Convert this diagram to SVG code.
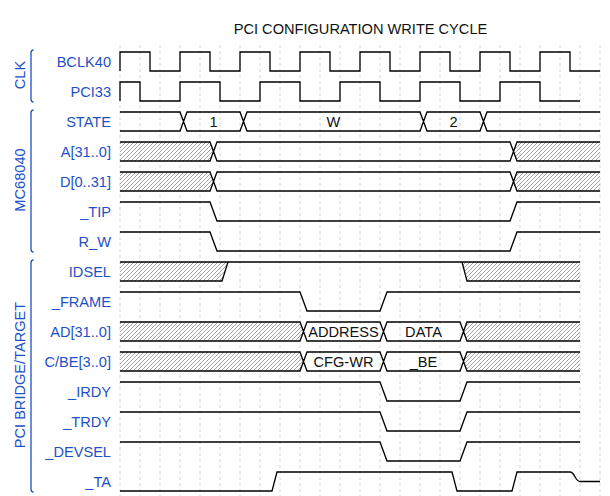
<svg xmlns="http://www.w3.org/2000/svg" width="610" height="496" viewBox="0 0 610 496">
<defs>
<pattern id="hatch" patternUnits="userSpaceOnUse" width="4" height="4">
<path d="M-1,1 L1,-1 M0,4 L4,0 M3,5 L5,3" stroke="#8a8a8a" stroke-width="0.8"/>
</pattern>
<style>
.grid{stroke:#d4d4d4;stroke-width:1;stroke-dasharray:3,3}
.w{fill:none;stroke:#000;stroke-width:1.3;stroke-linejoin:miter}
.h{fill:url(#hatch);stroke:none}
.lbl{font-family:"Liberation Sans",Arial,sans-serif;font-size:14.6px;fill:#1e50c8;text-anchor:end}
.grp{font-family:"Liberation Sans",Arial,sans-serif;font-size:14.6px;fill:#1e50c8;text-anchor:middle}
.br{fill:none;stroke:#1e50c8;stroke-width:1.3}
.bt{font-family:"Liberation Sans",Arial,sans-serif;font-size:14.6px;fill:#111;text-anchor:middle}
.title{font-family:"Liberation Sans",Arial,sans-serif;font-size:14.6px;fill:#111;text-anchor:middle}
</style>
</defs>
<rect width="610" height="496" fill="#fff"/>
<g id="grid">
<path class="grid" d="M120,45V496M140,45V496M160,45V496M180,45V496M200,45V496M220,45V496M240,45V496M260,45V496M280,45V496M300,45V496M320,45V496M340,45V496M360,45V496M380,45V496M400,45V496M420,45V496M440,45V496M460,45V496M480,45V496M500,45V496M520,45V496M540,45V496M560,45V496M580,45V496M600,45V496"/>
</g>
<text id="title" class="title" x="360.5" y="33.5">PCI CONFIGURATION WRITE CYCLE</text>
<g id="group-clk">
<path class="br" d="M33.5,50 Q31,50 31,53 V99 Q31,102 33.5,102"/>
<text class="grp" transform="translate(25,75) rotate(-90)">CLK</text>
</g>
<g id="group-mc68040">
<path class="br" d="M33.5,110 Q31,110 31,113 V249 Q31,252 33.5,252"/>
<text class="grp" transform="translate(25,180) rotate(-90)">MC68040</text>
</g>
<g id="group-pci">
<path class="br" d="M33.5,260 Q31,260 31,263 V489 Q31,492 33.5,492"/>
<text class="grp" transform="translate(25,375) rotate(-90)">PCI BRIDGE/TARGET</text>
</g>
<g id="sig-bclk40">
<text class="lbl" x="111" y="67.3">BCLK40</text>
<path class="w" d="M120,71 V52 H150 V71 H180 V52 H210 V71 H240 V52 H270 V71 H300 V52 H330 V71 H360 V52 H390 V71 H420 V52 H450 V71 H480 V52 H510 V71 H540 V52 H570 V71 H600"/>
</g>
<g id="sig-pci33">
<text class="lbl" x="111" y="97.3">PCI33</text>
<path class="w" d="M120,101 V82 H140 V101 H180 V82 H220 V101 H260 V82 H300 V101 H340 V82 H380 V101 H420 V82 H460 V101 H500 V82 H540 V101 H580"/>
</g>
<g id="sig-state">
<text class="lbl" x="111" y="127.3">STATE</text>
<path class="w" d="M120,112 H180 L187,131 H240 L247,112 H420 L427,131 H480 L487,112 H600 M120,131 H180 L187,112 H240 L247,131 H420 L427,112 H480 L487,131 H600"/>
<text class="bt" x="213.5" y="127.3">1</text>
<text class="bt" x="333.5" y="127.3">W</text>
<text class="bt" x="453.5" y="127.3">2</text>
</g>
<g id="sig-a">
<text class="lbl" x="111" y="157.3">A[31..0]</text>
<path class="h" d="M120,142 H210 L213.5,151.5 L210,161 H120 Z M600,142 H517 L513.5,151.5 L517,161 H600 Z"/>
<path class="w" d="M120,142 H210 L217,161 H510 L517,142 H600 M120,161 H210 L217,142 H510 L517,161 H600"/>
</g>
<g id="sig-d">
<text class="lbl" x="111" y="187.3">D[0..31]</text>
<path class="h" d="M120,172 H210 L213.5,181.5 L210,191 H120 Z M600,172 H517 L513.5,181.5 L517,191 H600 Z"/>
<path class="w" d="M120,172 H210 L217,191 H510 L517,172 H600 M120,191 H210 L217,172 H510 L517,191 H600"/>
</g>
<g id="sig-tip">
<text class="lbl" x="111" y="217.3">_TIP</text>
<path class="w" d="M120,202 H210 L217,221 H510 L517,202 H600"/>
</g>
<g id="sig-rw">
<text class="lbl" x="111" y="247.3">R_W</text>
<path class="w" d="M120,232 H210 L217,251 H510 L517,232 H600"/>
</g>
<g id="sig-idsel">
<text class="lbl" x="111" y="277.3">IDSEL</text>
<path class="h" d="M120,262 H228 L222,281 H120 Z M462,262 L467,281 H580 V262 Z"/>
<path class="w" d="M120,262 H580 M120,281 H222 L228,262 M462,262 L467,281 H580"/>
</g>
<g id="sig-frame">
<text class="lbl" x="111" y="307.3">_FRAME</text>
<path class="w" d="M120,292 H300 L307,311 H380 L387,292 H580"/>
</g>
<g id="sig-ad">
<text class="lbl" x="111" y="337.3">AD[31..0]</text>
<path class="h" d="M120,322 H300 L303.5,331.5 L300,341 H120 Z M580,322 H467 L463.5,331.5 L467,341 H580 Z"/>
<path class="w" d="M120,322 H300 L307,341 H380 L387,322 H460 L467,341 H580 M120,341 H300 L307,322 H380 L387,341 H460 L467,322 H580"/>
<text class="bt" x="343.5" y="337.3">ADDRESS</text>
<text class="bt" x="423.5" y="337.3">DATA</text>
</g>
<g id="sig-cbe">
<text class="lbl" x="111" y="367.3">C/BE[3..0]</text>
<path class="h" d="M120,352 H300 L303.5,361.5 L300,371 H120 Z M580,352 H467 L463.5,361.5 L467,371 H580 Z"/>
<path class="w" d="M120,352 H300 L307,371 H380 L387,352 H460 L467,371 H580 M120,371 H300 L307,352 H380 L387,371 H460 L467,352 H580"/>
<text class="bt" x="343.5" y="367.3">CFG-WR</text>
<text class="bt" x="423.5" y="367.3">_BE</text>
</g>
<g id="sig-irdy">
<text class="lbl" x="111" y="397.3">_IRDY</text>
<path class="w" d="M120,382 H380 L387,401 H460 L467,382 H580"/>
</g>
<g id="sig-trdy">
<text class="lbl" x="111" y="427.3">_TRDY</text>
<path class="w" d="M120,412 H380 L387,431 H460 L467,412 H580"/>
</g>
<g id="sig-devsel">
<text class="lbl" x="111" y="457.3">_DEVSEL</text>
<path class="w" d="M120,442 H380 L387,461 H460 L467,442 H580"/>
</g>
<g id="sig-ta">
<text class="lbl" x="111" y="487.3">_TA</text>
<path class="w" d="M120,491 H272 L277,472 H452 L457,491 H512 L517,472 H570 C575,472 575,481.5 580,481.5 H600"/>
</g>
</svg>
